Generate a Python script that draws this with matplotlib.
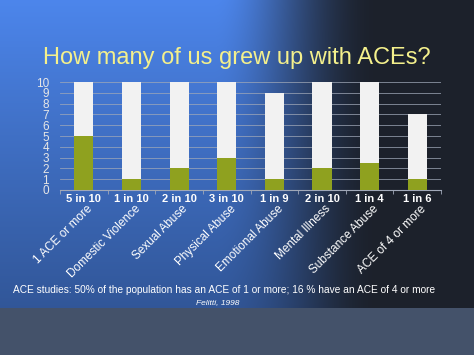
import numpy as np
import matplotlib.pyplot as plt
import matplotlib.transforms as mtrans

categories = ['1 ACE or more', 'Domestic Violence', 'Sexual Abuse', 'Physical Abuse',
              'Emotional Abuse', 'Mental Illness', 'Substance Abuse', 'ACE of 4 or more']
ratio_labels = ['5 in 10', '1 in 10', '2 in 10', '3 in 10', '1 in 9', '2 in 10', '1 in 4', '1 in 6']
affected = [5, 1, 2, 3, 1, 2, 2.5, 1]
totals = [10, 10, 10, 10, 9, 10, 10, 7]

plt.rcParams['font.family'] = ['Liberation Sans', 'DejaVu Sans']

fig = plt.figure(figsize=(4.74, 3.55), dpi=100)

# background: blue on the left fading to dark slate on the right, grey band at the bottom
bg = fig.add_axes([0, 0, 1, 1], zorder=0)
h, w = 355, 474
xx = np.linspace(0, 1, w)[None, :]
yy = np.linspace(0, 1, h)[:, None]
left = np.array([0.24, 0.42, 0.74])
right = np.array([0.11, 0.13, 0.17])
t = np.clip((xx - 0.45) / 0.35, 0, 1)
t = t * t * (3 - 2 * t)
img = left[None, None, :] * (1 - t[..., None]) + right[None, None, :] * t[..., None]
img = img * (1 + 0.25 * (1 - yy[..., None]) * (1 - t[..., None]))
img = img * (1 - 0.25 * yy[..., None] * (1 - t[..., None]))
img = np.clip(img, 0, 1)
img[308:, :, :] = np.array([0x45, 0x53, 0x6b]) / 255
bg.imshow(img, aspect='auto', extent=[0, 1, 0, 1], origin='upper')
bg.axis('off')

fig.text(0.5, 0.838, 'How many of us grew up with ACEs?', ha='center', va='center',
         fontsize=17, color='#f4f08c')

ax = fig.add_axes([0.1266, 0.4648, 0.804, 0.304], zorder=1)
ax.patch.set_alpha(0)
x = np.arange(len(categories))
rest = [t_ - a for t_, a in zip(totals, affected)]
ax.bar(x, affected, width=0.4, color='#8fa11f', zorder=3)
ax.bar(x, rest, width=0.4, bottom=affected, color='#f2f2f2', zorder=3)

ax.set_xlim(-0.5, 7.5)
ax.set_ylim(0, 10)
ax.set_yticks(range(11))
ax.set_yticklabels([str(i) for i in range(11)], fontsize=8.5, color='#e6e6e6')
ax.yaxis.set_tick_params(length=0, pad=8)
ax.grid(axis='y', color='#a0a8b8', linewidth=0.6, alpha=0.85, zorder=1)
for s in ['top', 'right', 'left']:
    ax.spines[s].set_visible(False)
ax.spines['bottom'].set_color('#a0a8b8')
ax.spines['bottom'].set_linewidth(0.8)

ax.set_xticks(x)
ax.set_xticklabels(ratio_labels, fontsize=8, fontweight='bold', color='white')
ax.xaxis.set_tick_params(length=0, pad=3)
ax.set_xticks(np.arange(-0.5, 8, 1), minor=True)
ax.xaxis.set_tick_params(which='minor', length=3, color='#a0a8b8')

trans = mtrans.blended_transform_factory(ax.transData, ax.transAxes)
for i, name in enumerate(categories):
    ax.text(i + 0.06, -0.12, name, transform=trans, rotation=45, rotation_mode='anchor',
            ha='right', va='top', fontsize=8.5, color='white')

fig.text(0.472, 0.183, 'ACE studies: 50% of the population has an ACE of 1 or more; 16 % have an ACE of 4 or more',
         ha='center', va='center', fontsize=7.3, color='white')
fig.text(0.46, 0.147, 'Felitti, 1998', ha='center', va='center', fontsize=6,
         style='italic', color='white')

fig.savefig('out.png', dpi=100)
